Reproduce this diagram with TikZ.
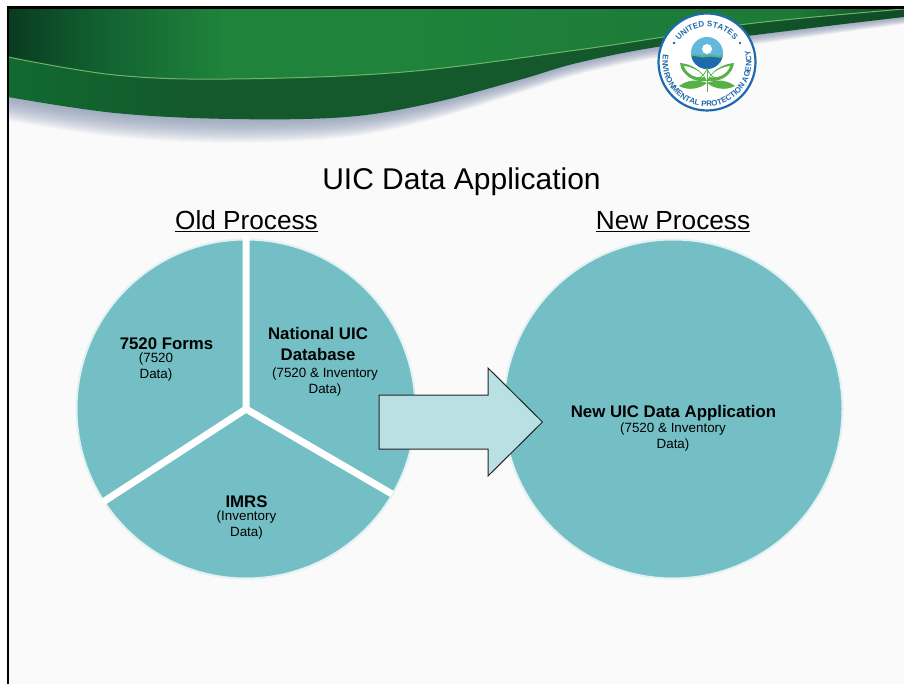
\documentclass[tikz,border=0pt]{standalone}
\usepackage{fontspec}
\setmainfont{Liberation Sans}
\usetikzlibrary{decorations.text}
\definecolor{pagebg}{HTML}{FAFAFA}
\definecolor{teal1}{HTML}{74BFC5}
\definecolor{tealedge}{HTML}{E2F1F2}
\definecolor{arrowfill}{HTML}{B9E0E3}
\definecolor{g0}{HTML}{0A3B20}
\definecolor{g1}{HTML}{116030}
\definecolor{g2}{HTML}{1C7C39}
\definecolor{g3}{HTML}{1F833B}
\definecolor{g4}{HTML}{1B7A36}
\definecolor{g5}{HTML}{0E4A26}
\definecolor{d0}{HTML}{116A31}
\definecolor{d1}{HTML}{14592B}
\definecolor{d2}{HTML}{0F4D26}
\definecolor{eline}{HTML}{6DB56A}
\definecolor{shadowc}{HTML}{7F8FAE}
\definecolor{ringblue}{HTML}{1F69AD}
\definecolor{leafg}{HTML}{58B146}
\definecolor{skyb}{HTML}{63B8DE}
\pgfdeclarehorizontalshading{bandtop}{100bp}{color(0bp)=(g0); color(25bp)=(g0); color(30bp)=(g1); color(37bp)=(g3); color(47.5bp)=(g3); color(61bp)=(g2); color(69bp)=(g4); color(75bp)=(g5); color(100bp)=(g5)}
\pgfdeclarehorizontalshading{bandlow}{100bp}{color(0bp)=(d0); color(25bp)=(d0); color(35bp)=(d1); color(60bp)=(d1); color(75bp)=(d2); color(100bp)=(d2)}
\tikzset{
  pagetitle/.style={font=\fontsize{30}{34}\selectfont,text=black,inner sep=0pt,anchor=base},
  headtext/.style={font=\fontsize{26.2}{30}\selectfont,text=black,inner sep=0pt,anchor=base},
  bigpie/.style={circle,fill=teal1,draw=tealedge,line width=2pt,minimum size=339pt,inner sep=0pt},
  divider/.style={draw=white,line width=7pt},
  maintxt/.style={font=\fontsize{16.8}{21}\selectfont\bfseries,text=black,align=center,inner sep=0pt},
  subtxt/.style={font=\fontsize{13.4}{16}\selectfont,text=black,align=center,inner sep=0pt},
  bigarrow/.style={fill=arrowfill,draw=black!85,line width=1pt,line join=miter},
}
\newcommand{\loweredge}[1]{(8,{97+#1}) (115,{113+#1}) (231,{119+#1}) (346,{117+.85*#1}) (432,{103+.7*#1}) (519,{80+.55*#1}) (577,{63+.5*#1}) (657,{47+.45*#1}) (755,{35+.4*#1}) (836,{25+.35*#1}) (904,{17+.3*#1})}
\begin{document}
\begin{tikzpicture}[x=1pt,y=-1pt]
\useasboundingbox (0,0) rectangle (904,684);
\fill[white] (0,0) rectangle (904,684);
\fill[pagebg] (8,8) rectangle (904,684);
% shadow below the band
\foreach \d in {1,...,24}{
  \fill[shadowc,opacity=.045] (8,8) -- plot[smooth,tension=.6] coordinates {\loweredge{\d}} -- (904,8) -- cycle;
}
% dark lower band
\shade[shading=bandlow] (8,8) -- plot[smooth,tension=.6] coordinates {\loweredge{0}} -- (904,8) -- cycle;
% upper band
\shade[shading=bandtop] (8,8) -- plot[smooth,tension=.6] coordinates {(8,57) (115,75) (231,79) (404,72) (577,50) (657,38) (755,23) (904,9)} -- (904,8) -- cycle;
\draw[eline,line width=1pt] plot[smooth,tension=.6] coordinates {(8,57) (115,75) (231,79) (404,72) (577,50) (657,38) (755,23) (904,9)};
% page border
\fill[black] (7,6.5) rectangle (904,9);
\fill[black] (7,6.5) rectangle (9,684);
% logo
\begin{scope}[shift={(707,62)},x=1pt,y=1pt]
  \fill[white,draw=ringblue,line width=2.2pt] (0,0) circle (48.5);
  \path[decorate,decoration={text along path,text align=center,text color=ringblue,
     text={|\fontsize{8}{9}\selectfont\bfseries|UNITED STATES}}]
     (170:35) arc[start angle=170,end angle=11,radius=35];
  \path[decorate,decoration={text along path,text align=center,text color=ringblue,
     text={|\fontsize{7.9}{9}\selectfont\bfseries|ENVIRONMENTAL PROTECTION AGENCY}}]
     (130:44.5) arc[start angle=130,end angle=416,radius=44.5];
  \fill[ringblue] (150:38) circle (1.4) (30:38) circle (1.4);
  \fill[skyb] (0,9) circle (16);
  \begin{scope}
    \clip (0,9) circle (16);
    \fill[ringblue] (-17,5) .. controls (-10,8) and (-6,3) .. (0,5) .. controls (6,7) and (10,3) .. (17,5) -- (17,-8) -- (-17,-8) -- cycle;
    \fill[leafg!70!skyb] (-17,7) .. controls (-10,9) and (-6,5) .. (0,7) .. controls (6,8) and (10,5) .. (17,7) -- (17,5) .. controls (10,3) and (6,7) .. (0,5) .. controls (-6,3) and (-10,8) .. (-17,5) -- cycle;
  \end{scope}
  \fill[white] (0,13) circle (5);
  \foreach \s in {1,-1}{
    \begin{scope}[xscale=\s]
      \fill[leafg] (0,-19) .. controls (-5,-8) and (-16,-2) .. (-27,-1) .. controls (-26,-12) and (-14,-21) .. (0,-19) -- cycle;
      \fill[white] (-3,-15) .. controls (-7,-9) and (-15,-5) .. (-23,-4) .. controls (-21,-11) and (-12,-17) .. (-3,-15) -- cycle;
      \fill[leafg] (0,-21) .. controls (-10,-17) and (-20,-18) .. (-28,-24) .. controls (-18,-29) and (-8,-27) .. (0,-21) -- cycle;
      \draw[leafg,line width=.8pt] (0,-6) .. controls (-1,-11) and (-5,-15) .. (-10,-17);
    \end{scope}
  }
  \draw[leafg,line width=1pt] (0,-7) -- (0,-30);
\end{scope}
% title
\node[pagetitle] (title) at (461.5,190) {UIC Data Application};
\node[headtext] (oldh) at (246.5,230) {\underline{Old Process}};
\node[headtext] (newh) at (673,230) {\underline{New Process}};
% pies
\node[bigpie] (oldpie) at (246,409) {};
\node[bigpie] (newpie) at (673,409) {};
\coordinate (hub) at (246,409);
\coordinate (spokea) at (246,236);
\coordinate (spokeb) at (103,502);
\coordinate (spokec) at (392,494);
\draw[divider,line cap=butt] (spokea) -- (hub) (spokeb) -- (hub) (spokec) -- (hub);
% pie labels
\node[maintxt] (forms) at (166.5,344) {7520 Forms};
\node[subtxt] (formsd) at (156,367) {(7520\\Data)};
\node[maintxt] (nat) at (318,344) {National UIC\\Database};
\node[subtxt] (natd) at (325,382.5) {(7520 \& Inventory\\Data)};
\node[maintxt] (imrs) at (246.5,501.5) {IMRS};
\node[subtxt] (imrsd) at (246.5,525) {(Inventory\\Data)};
\node[maintxt] (newt) at (673.5,413.5) {New UIC Data Application};
\node[subtxt] (newd) at (673,437) {(7520 \& Inventory\\Data)};
% arrow
\draw[bigarrow] (379,395) -- (488,395) -- (488,368) -- (542.5,422) -- (488,476) -- (488,449) -- (379,449) -- cycle;
\end{tikzpicture}
\end{document}
